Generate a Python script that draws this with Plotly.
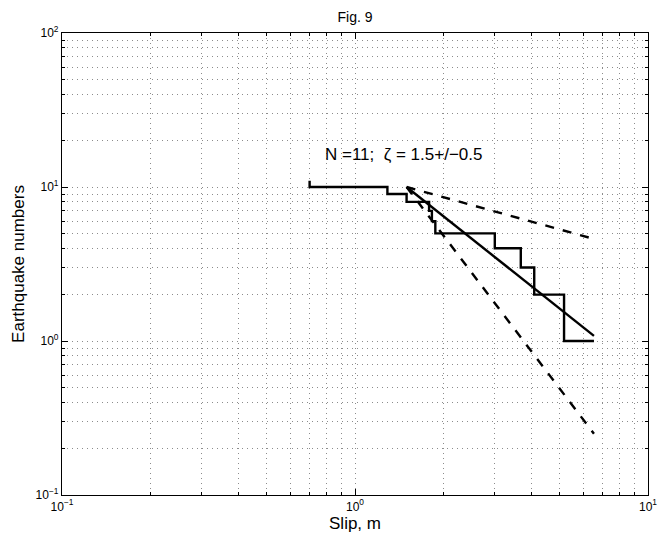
import plotly.graph_objects as go

# Staircase of cumulative earthquake numbers vs slip
step_x = [0.70, 0.70, 1.29, 1.29, 1.50, 1.50, 1.79, 1.79, 1.83, 1.83, 1.88, 1.88,
          3.00, 3.00, 3.68, 3.68, 4.09, 4.09, 5.17, 5.17, 6.54]
step_y = [11, 10, 10, 9, 9, 8, 8, 7, 7, 6, 6, 5, 5, 4, 4, 3, 3, 2, 2, 1, 1]

# Fitted power-law line and bounds (endpoints)
fit_x = [1.5, 6.54]
fit_y = [10, 1.08]
upper_x = [1.5, 6.54]
upper_y = [10, 4.6]
lower_x = [1.5, 6.54]
lower_y = [10, 0.25]

x_ticks = [0.1, 1, 10]
x_ticktext = ["10<sup>−1</sup>", "10<sup>0</sup>", "10<sup>1</sup>"]
y_ticks = [0.1, 1, 10, 100]
y_ticktext = ["10<sup>−1</sup>", "10<sup>0</sup>", "10<sup>1</sup>", "10<sup>2</sup>"]

x_minor = [m * d for d in [0.1, 1] for m in range(2, 10)]
y_minor = [m * d for d in [0.1, 1, 10] for m in range(2, 10)]

GRID = "#8c8c8c"
DASH = "1px,4px"
FONT = "Liberation Sans, Arial"

fig = go.Figure()
fig.add_trace(go.Scatter(x=step_x, y=step_y, mode="lines",
                         line=dict(color="black", width=2.4), showlegend=False))
fig.add_trace(go.Scatter(x=fit_x, y=fit_y, mode="lines",
                         line=dict(color="black", width=2.4), showlegend=False))
fig.add_trace(go.Scatter(x=upper_x, y=upper_y, mode="lines",
                         line=dict(color="black", width=2.4, dash="dash"), showlegend=False))
fig.add_trace(go.Scatter(x=lower_x, y=lower_y, mode="lines",
                         line=dict(color="black", width=2.4, dash="dash"), showlegend=False))

axis_common = dict(
    type="log", showline=True, linecolor="black", linewidth=1.2, mirror="allticks",
    ticks="inside", ticklen=6, tickcolor="black", tickwidth=1,
    showgrid=True, gridcolor=GRID, griddash=DASH, gridwidth=1,
    zeroline=False, tickfont=dict(family=FONT, size=12, color="black"),
    title_font=dict(family=FONT, size=17, color="black"),
)

fig.update_xaxes(**axis_common, range=[-1, 1], tickmode="array", tickvals=x_ticks,
                 ticktext=x_ticktext, title_text="Slip, m", title_standoff=4,
                 minor=dict(tickmode="array", tickvals=x_minor, ticks="inside", ticklen=3,
                            tickcolor="black", showgrid=True, gridcolor=GRID,
                            griddash=DASH, gridwidth=1))
fig.update_yaxes(**axis_common, range=[-1, 2], tickmode="array", tickvals=y_ticks,
                 ticktext=y_ticktext, title_text="Earthquake numbers", title_standoff=6,
                 minor=dict(tickmode="array", tickvals=y_minor, ticks="inside", ticklen=3,
                            tickcolor="black", showgrid=True, gridcolor=GRID,
                            griddash=DASH, gridwidth=1))

fig.add_annotation(x=-0.109, y=1.214, xref="x", yref="y", text="N =11;  ζ = 1.5+/−0.5",
                   showarrow=False, xanchor="left", yanchor="middle",
                   font=dict(family=FONT, size=17, color="black"))

fig.update_layout(
    width=659, height=540,
    margin=dict(l=62, r=11, t=33, b=45, autoexpand=False),
    paper_bgcolor="white", plot_bgcolor="white",
    title=dict(text="Fig. 9", x=0.5, xref="paper", xanchor="center", y=1 - 17 / 540,
               yanchor="middle", font=dict(family=FONT, size=14, color="black")),
)

fig.write_html("out.html")
